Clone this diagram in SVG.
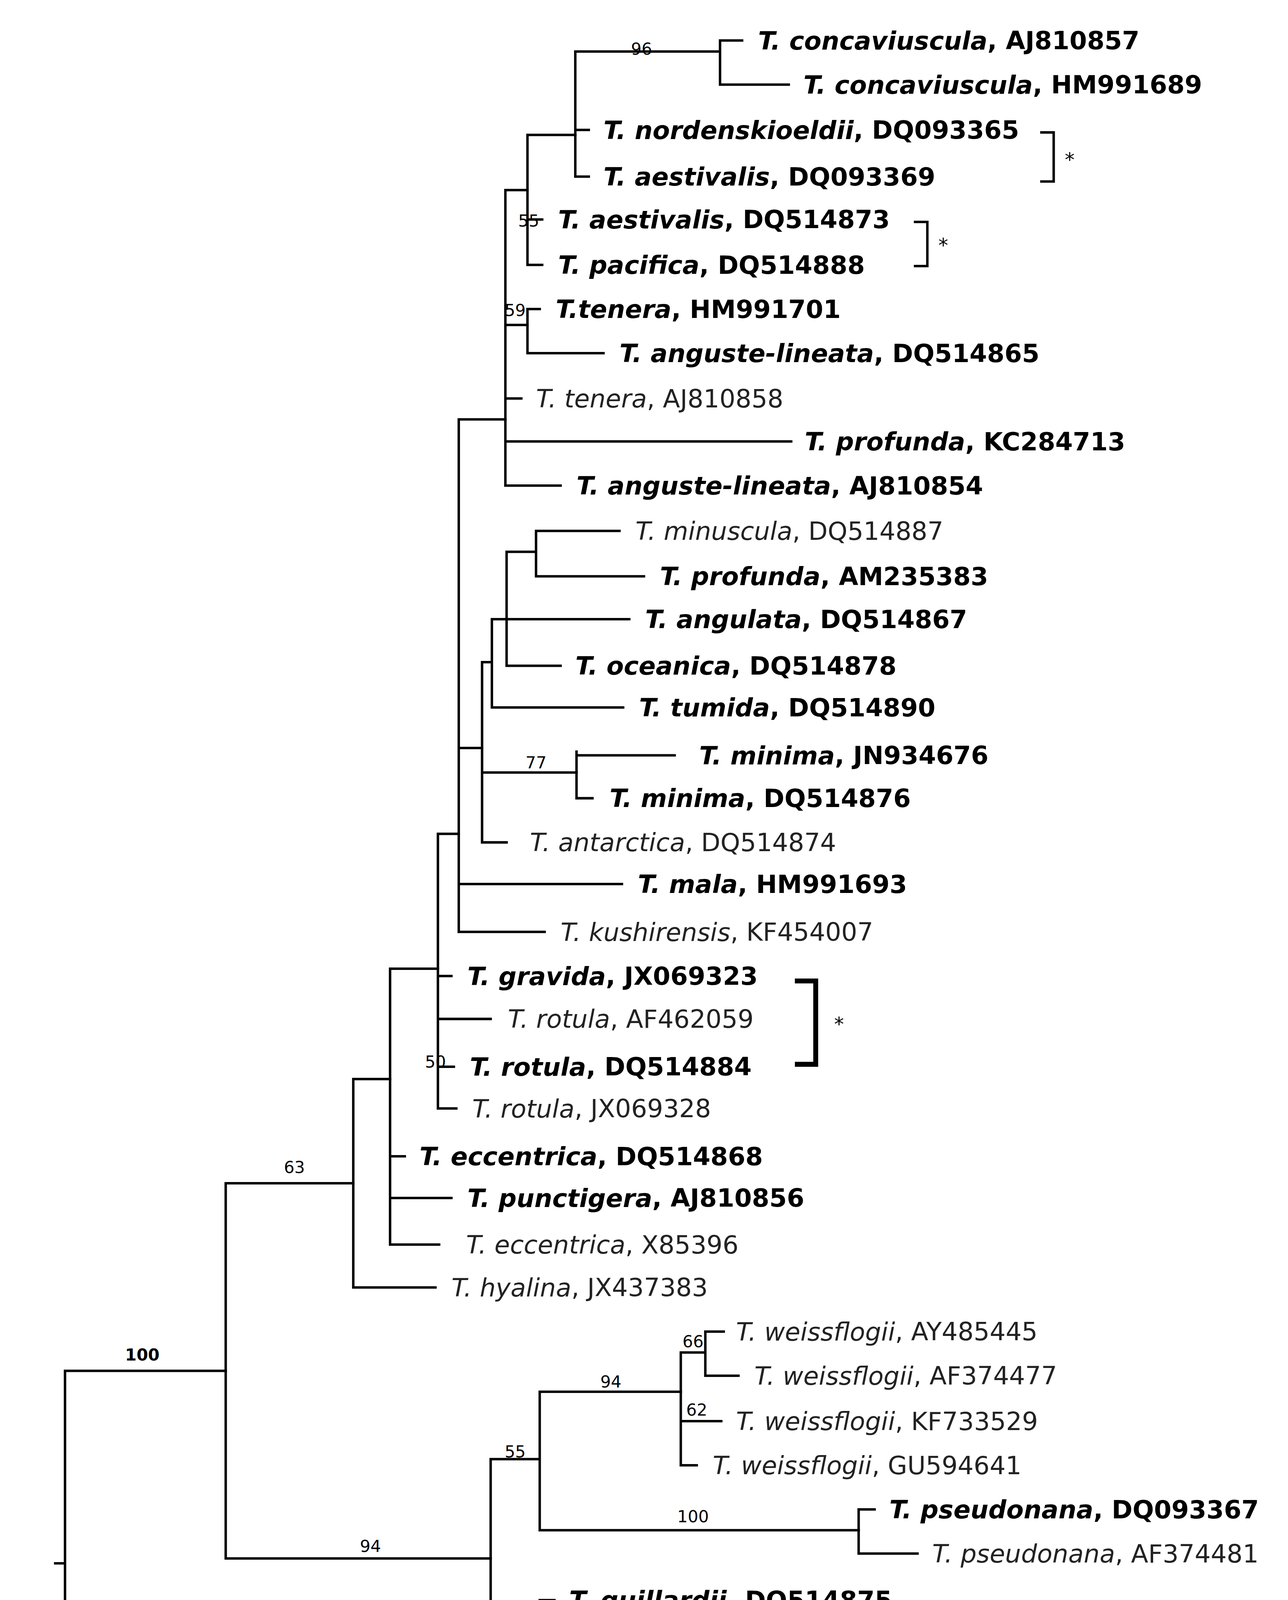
<svg xmlns="http://www.w3.org/2000/svg" width="3296" height="4872" viewBox="0 0 3296 4872">
<style>
.e{stroke:#000;stroke-width:2;fill:none;stroke-linecap:square}
text{font-family:"DejaVu Sans","Liberation Sans",sans-serif;dominant-baseline:central}
.t{font-size:20.5px;fill:#222}
.b{font-weight:bold;fill:#000}
.i{font-style:italic}
.s{font-size:13.5px;fill:#000}
</style>
<rect width="3296" height="4872" fill="#fff"/>
<g transform="scale(3.139)">
<g id="connectors" class="e">
<path d="M45 1275H53M53 1118V1430M53 1118H184M53 1430H184"/>
<path d="M184 965V1271M184 965H288M184 1271H400M184 1412V1448M184 1412H390M184 1448H270"/>
<path d="M288 880V1050M288 880H318M288 1050H355"/>
<path d="M318 790V1015M318 790H357M318 943H330M318 977H368M318 1015H358"/>
<path d="M357 680V904M357 680H374M357 796H368M357 831H400M357 870H370M357 904H372"/>
<path d="M374 342V760M374 342H412M374 610H393M374 721H507M374 760H444"/>
<path d="M412 155V396M412 155H430M412 265H430M412 325H425M412 360H645M412 396H457"/>
<path d="M430 110V216M430 110H469M430 179H442M430 216H442M430 252V288M430 252H440M430 288H492"/>
<path d="M469 42V144M469 42H587M469 106H480M469 144H480M587 33V69M587 33H605M587 69H643"/>
<path d="M393 540V687M393 540H401M393 630H470M393 687H413M401 505V577M401 505H413M401 577H508"/>
<path d="M413 450V543M413 450H437M413 505H513M413 543H457M437 433V470M437 433H505M437 470H525"/>
<path d="M470 613V651M470 616H550M470 651H483"/>
<path d="M400 1190V1348M400 1190H440M400 1348H422M440 1135V1248M440 1135H555M440 1248H700"/>
<path d="M555 1103V1195M555 1103H575M555 1159H588M555 1195H568M575 1086V1122M575 1086H590M575 1122H602"/>
<path d="M700 1231V1267M700 1231H713M700 1267H748"/>
<path d="M422 1320V1375M422 1320H440M422 1375H438M440 1305V1340M440 1305H452M440 1340H472"/>
<path d="M323 1500H463"/>
<path d="M849 108H859V148H849M746 181H756V217H746"/>
<path d="M650 800H665V868H650" stroke-width="4"/>
</g>
<g id="tips" class="t">
<text x="618" y="33" class="b"><tspan class="i">T. concaviuscula</tspan>, AJ810857</text>
<text x="655" y="69" class="b"><tspan class="i">T. concaviuscula</tspan>, HM991689</text>
<text x="492" y="106" class="b"><tspan class="i">T. nordenskioeldii</tspan>, DQ093365</text>
<text x="492" y="144" class="b"><tspan class="i">T. aestivalis</tspan>, DQ093369</text>
<text x="455" y="179" class="b"><tspan class="i">T. aestivalis</tspan>, DQ514873</text>
<text x="455" y="216" class="b"><tspan class="i">T. pacifica</tspan>, DQ514888</text>
<text x="453" y="252" class="b"><tspan class="i">T.tenera</tspan>, HM991701</text>
<text x="505" y="288" class="b"><tspan class="i">T. anguste-lineata</tspan>, DQ514865</text>
<text x="437" y="325"><tspan class="i">T. tenera</tspan>, AJ810858</text>
<text x="656" y="360" class="b"><tspan class="i">T. profunda</tspan>, KC284713</text>
<text x="470" y="396" class="b"><tspan class="i">T. anguste-lineata</tspan>, AJ810854</text>
<text x="518" y="433"><tspan class="i">T. minuscula</tspan>, DQ514887</text>
<text x="538" y="470" class="b"><tspan class="i">T. profunda</tspan>, AM235383</text>
<text x="526" y="505" class="b"><tspan class="i">T. angulata</tspan>, DQ514867</text>
<text x="469" y="543" class="b"><tspan class="i">T. oceanica</tspan>, DQ514878</text>
<text x="521" y="577" class="b"><tspan class="i">T. tumida</tspan>, DQ514890</text>
<text x="570" y="616" class="b"><tspan class="i">T. minima</tspan>, JN934676</text>
<text x="497" y="651" class="b"><tspan class="i">T. minima</tspan>, DQ514876</text>
<text x="432" y="687"><tspan class="i">T. antarctica</tspan>, DQ514874</text>
<text x="520" y="721" class="b"><tspan class="i">T. mala</tspan>, HM991693</text>
<text x="457" y="760"><tspan class="i">T. kushirensis</tspan>, KF454007</text>
<text x="381" y="796" class="b"><tspan class="i">T. gravida</tspan>, JX069323</text>
<text x="414" y="831"><tspan class="i">T. rotula</tspan>, AF462059</text>
<text x="383" y="870" class="b"><tspan class="i">T. rotula</tspan>, DQ514884</text>
<text x="385" y="904"><tspan class="i">T. rotula</tspan>, JX069328</text>
<text x="342" y="943" class="b"><tspan class="i">T. eccentrica</tspan>, DQ514868</text>
<text x="381" y="977" class="b"><tspan class="i">T. punctigera</tspan>, AJ810856</text>
<text x="380" y="1015"><tspan class="i">T. eccentrica</tspan>, X85396</text>
<text x="368" y="1050"><tspan class="i">T. hyalina</tspan>, JX437383</text>
<text x="600" y="1086"><tspan class="i">T. weissflogii</tspan>, AY485445</text>
<text x="615" y="1122"><tspan class="i">T. weissflogii</tspan>, AF374477</text>
<text x="600" y="1159"><tspan class="i">T. weissflogii</tspan>, KF733529</text>
<text x="581" y="1195"><tspan class="i">T. weissflogii</tspan>, GU594641</text>
<text x="725" y="1231" class="b"><tspan class="i">T. pseudonana</tspan>, DQ093367</text>
<text x="760" y="1267"><tspan class="i">T. pseudonana</tspan>, AF374481</text>
<text x="464" y="1305" class="b"><tspan class="i">T. guillardii</tspan>,  DQ514875</text>
<text x="485" y="1340" class="b"><tspan class="i">T. guillardii</tspan>, AF374478</text>
<text x="451" y="1375" class="b"><tspan class="i">T. guillardii</tspan>, DQ514869</text>
<text x="416" y="1413"><tspan class="i">Skeletonema marinoi</tspan>, AJ632213</text>
<text x="294" y="1449"><tspan class="i">Skeletonema menzelii</tspan>, AJ535168</text>
</g>
<g id="supports" class="s" text-anchor="middle">
<text x="523" y="40">96</text>
<text x="431" y="180">55</text>
<text x="420" y="253">59</text>
<text x="437" y="622">77</text>
<text x="355" y="866">50</text>
<text x="240" y="952">63</text>
<text x="565" y="1094">66</text>
<text x="568" y="1150">62</text>
<text x="498" y="1127">94</text>
<text x="565" y="1237">100</text>
<text x="420" y="1184">55</text>
<text x="430" y="1313">62</text>
<text x="410" y="1340">77</text>
<text x="302" y="1261">94</text>
<text x="116" y="1105" font-weight="bold">100</text>
<text x="120" y="1418">100</text>
</g>
<g id="marks" class="s">
<text x="868" y="130" font-size="16">*</text>
<text x="765" y="200" font-size="16">*</text>
<text x="680" y="835" font-size="16">*</text>
<text x="393" y="1532" font-size="24" text-anchor="middle">0.02</text>
</g>
</g>
</svg>
